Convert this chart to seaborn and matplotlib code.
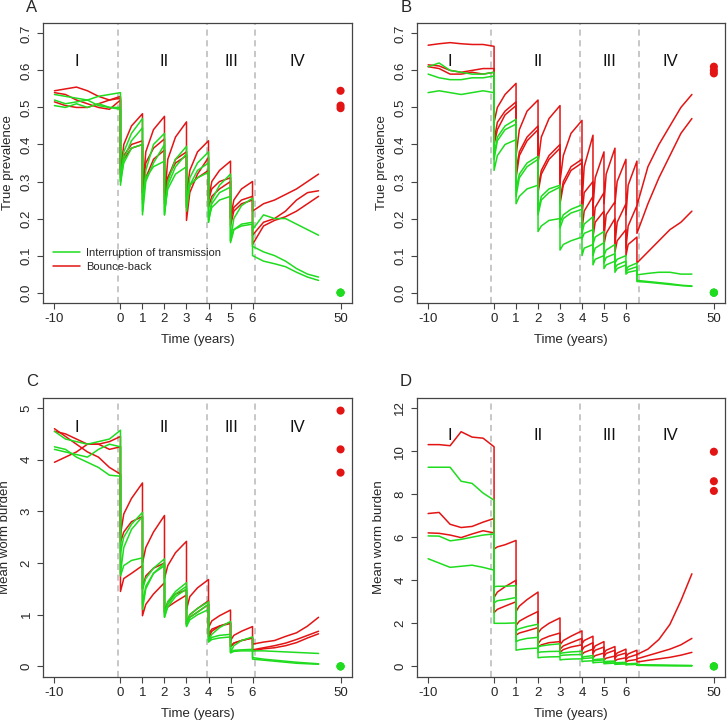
import matplotlib
matplotlib.use("Agg")
import numpy as np
import pandas as pd
import seaborn as sns
import matplotlib.pyplot as plt
from matplotlib.lines import Line2D

sns.set_theme(style="white")
plt.rcParams['font.family'] = ['Liberation Sans', 'DejaVu Sans']

# ---------------- data ----------------
XTICK_LABELS = ['-10', '0', '1', '2', '3', '4', '5', '6', '50']
PHASES = ['I', 'II', 'III', 'IV']
LEG_LABELS = ['Interruption of transmission', 'Bounce-back']

# Panel A: true prevalence (annual treatment years 0-6)
A_r1 = [0.545, 0.55, 0.555, 0.545, 0.53, 0.52, 0.525,
        0.32, 0.40, 0.45, 0.483, 0.27, 0.38, 0.44, 0.476, 0.25, 0.36, 0.42, 0.461,
        0.26, 0.33, 0.38, 0.41, 0.25, 0.30, 0.33, 0.355, 0.20, 0.25, 0.28, 0.30,
        0.22, 0.24, 0.25, 0.265, 0.28, 0.30, 0.32]
A_r2 = [0.54, 0.535, 0.52, 0.51, 0.50, 0.495, 0.52,
        0.31, 0.37, 0.40, 0.41, 0.27, 0.35, 0.39, 0.415, 0.24, 0.31, 0.36, 0.38,
        0.195, 0.27, 0.32, 0.365, 0.25, 0.28, 0.30, 0.31, 0.20, 0.23, 0.25, 0.26,
        0.155, 0.19, 0.20, 0.22, 0.25, 0.27, 0.275]
A_r3 = [0.515, 0.505, 0.50, 0.50, 0.51, 0.52, 0.53,
        0.33, 0.36, 0.39, 0.40, 0.25, 0.31, 0.36, 0.385, 0.27, 0.31, 0.35, 0.37,
        0.23, 0.29, 0.31, 0.33, 0.23, 0.26, 0.28, 0.30, 0.18, 0.22, 0.24, 0.25,
        0.13, 0.18, 0.195, 0.205, 0.22, 0.24, 0.26]
A_g1 = [0.535, 0.53, 0.525, 0.52, 0.53, 0.535, 0.54,
        0.30, 0.38, 0.43, 0.47, 0.22, 0.33, 0.40, 0.43, 0.21, 0.30, 0.36, 0.395,
        0.23, 0.31, 0.35, 0.38, 0.19, 0.25, 0.29, 0.32, 0.14, 0.20, 0.235, 0.255,
        0.17, 0.21, 0.20, 0.20, 0.185, 0.17, 0.155]
A_g2 = [0.52, 0.51, 0.515, 0.52, 0.505, 0.50, 0.495,
        0.29, 0.36, 0.41, 0.445, 0.21, 0.30, 0.35, 0.40, 0.21, 0.29, 0.34, 0.375,
        0.22, 0.29, 0.33, 0.35, 0.19, 0.24, 0.27, 0.285, 0.135, 0.17, 0.185, 0.19,
        0.125, 0.11, 0.10, 0.085, 0.065, 0.05, 0.042]
A_g3 = [0.505, 0.50, 0.51, 0.50, 0.51, 0.50, 0.50,
        0.30, 0.35, 0.39, 0.40, 0.24, 0.31, 0.34, 0.355, 0.22, 0.28, 0.32, 0.34,
        0.24, 0.29, 0.31, 0.325, 0.20, 0.23, 0.25, 0.26, 0.14, 0.17, 0.18, 0.185,
        0.10, 0.085, 0.078, 0.07, 0.055, 0.042, 0.033]
A_eq_red = [0.545, 0.505, 0.498]
A_eq_green = [0.0, 0.0, 0.0]

# Panel B: true prevalence (annual years 0-4, semi-annual 4-6.5)
B_r1 = [0.668, 0.672, 0.675, 0.672, 0.670, 0.670, 0.665,
        0.46, 0.50, 0.535, 0.565, 0.37, 0.44, 0.49, 0.52, 0.35, 0.42, 0.47, 0.505,
        0.30, 0.37, 0.43, 0.465,
        0.24, 0.34, 0.425, 0.23, 0.31, 0.38, 0.24, 0.32, 0.39, 0.24, 0.30, 0.36,
        0.21, 0.29, 0.355,
        0.235, 0.34, 0.40, 0.45, 0.50, 0.535]
B_r2 = [0.615, 0.612, 0.60, 0.595, 0.60, 0.605, 0.605,
        0.41, 0.46, 0.49, 0.515, 0.33, 0.38, 0.42, 0.45, 0.28, 0.33, 0.37, 0.40,
        0.25, 0.30, 0.34, 0.36,
        0.21, 0.27, 0.30, 0.17, 0.23, 0.27, 0.15, 0.21, 0.245, 0.13, 0.19, 0.24,
        0.12, 0.18, 0.235,
        0.16, 0.24, 0.31, 0.37, 0.43, 0.47]
B_r3 = [0.61, 0.605, 0.59, 0.59, 0.595, 0.59, 0.595,
        0.40, 0.44, 0.48, 0.505, 0.31, 0.37, 0.41, 0.44, 0.27, 0.32, 0.36, 0.39,
        0.24, 0.29, 0.33, 0.35,
        0.17, 0.22, 0.26, 0.15, 0.19, 0.22, 0.13, 0.16, 0.20, 0.11, 0.14, 0.17,
        0.10, 0.13, 0.15,
        0.08, 0.11, 0.14, 0.17, 0.19, 0.22]
B_g1 = [0.61, 0.62, 0.60, 0.595, 0.59, 0.59, 0.595,
        0.37, 0.42, 0.45, 0.468, 0.28, 0.32, 0.35, 0.368, 0.22, 0.26, 0.28, 0.29,
        0.19, 0.21, 0.225, 0.237,
        0.16, 0.185, 0.205, 0.13, 0.15, 0.165, 0.10, 0.115, 0.13, 0.08, 0.09, 0.10,
        0.06, 0.07, 0.08,
        0.048, 0.052, 0.055, 0.055, 0.05, 0.05]
B_g2 = [0.59, 0.58, 0.575, 0.575, 0.58, 0.58, 0.585,
        0.36, 0.41, 0.44, 0.455, 0.26, 0.31, 0.34, 0.36, 0.21, 0.25, 0.27, 0.285,
        0.175, 0.20, 0.215, 0.225,
        0.145, 0.16, 0.17, 0.10, 0.12, 0.135, 0.08, 0.095, 0.105, 0.065, 0.075, 0.085,
        0.055, 0.062, 0.07,
        0.033, 0.03, 0.027, 0.024, 0.02, 0.018]
B_g3 = [0.54, 0.545, 0.54, 0.535, 0.54, 0.545, 0.54,
        0.33, 0.37, 0.40, 0.413, 0.24, 0.26, 0.28, 0.29, 0.165, 0.18, 0.195, 0.20,
        0.115, 0.13, 0.14, 0.15,
        0.10, 0.12, 0.13, 0.075, 0.09, 0.10, 0.065, 0.075, 0.085, 0.055, 0.065, 0.075,
        0.05, 0.055, 0.06,
        0.03, 0.028, 0.025, 0.022, 0.019, 0.017]
B_eq_red = [0.61, 0.60, 0.592]
B_eq_green = [0.0, 0.0, 0.0]

# Panel C: mean worm burden (annual treatment years 0-6)
C_r1 = [3.95, 4.05, 4.15, 4.3, 4.3, 4.2, 4.25,
        2.55, 2.95, 3.25, 3.55, 2.0, 2.3, 2.6, 2.92, 1.7, 1.95, 2.2, 2.42,
        1.1, 1.35, 1.52, 1.68, 0.75, 0.88, 0.98, 1.09, 0.5, 0.6, 0.68, 0.77,
        0.43, 0.47, 0.5, 0.58, 0.65, 0.78, 0.95]
C_r2 = [4.6, 4.45, 4.3, 4.15, 4.05, 3.85, 3.72,
        1.45, 1.7, 1.8, 1.95, 0.98, 1.2, 1.4, 1.62, 1.05, 1.15, 1.25, 1.38,
        0.82, 0.95, 1.05, 1.2, 0.55, 0.68, 0.78, 0.83, 0.38, 0.45, 0.5, 0.55,
        0.32, 0.36, 0.4, 0.45, 0.52, 0.6, 0.68]
C_r3 = [4.55, 4.5, 4.4, 4.3, 4.3, 4.35, 4.45,
        2.4, 2.6, 2.8, 2.9, 1.5, 1.75, 1.9, 2.0, 1.05, 1.25, 1.4, 1.48,
        0.82, 1.0, 1.12, 1.27, 0.62, 0.72, 0.78, 0.85, 0.38, 0.45, 0.5, 0.55,
        0.3, 0.34, 0.36, 0.4, 0.46, 0.55, 0.63]
C_g1 = [4.55, 4.4, 4.35, 4.3, 4.35, 4.4, 4.57,
        2.2, 2.5, 2.75, 2.98, 1.5, 1.7, 1.9, 2.08, 1.0, 1.25, 1.45, 1.62,
        0.8, 1.0, 1.12, 1.25, 0.5, 0.62, 0.75, 0.87, 0.27, 0.4, 0.5, 0.57,
        0.3, 0.3, 0.29, 0.28, 0.27, 0.26, 0.25]
C_g2 = [4.2, 4.15, 4.1, 4.05, 4.2, 4.3, 4.25,
        1.8, 2.3, 2.65, 2.9, 1.2, 1.55, 1.8, 2.0, 0.95, 1.2, 1.4, 1.55,
        0.78, 0.95, 1.05, 1.2, 0.48, 0.56, 0.6, 0.62, 0.28, 0.31, 0.32, 0.33,
        0.17, 0.14, 0.12, 0.1, 0.08, 0.065, 0.05]
C_g3 = [4.25, 4.2, 4.05, 3.95, 3.85, 3.7, 3.68,
        1.75, 1.95, 2.05, 2.1, 1.1, 1.5, 1.8, 1.95, 0.95, 1.15, 1.35, 1.5,
        0.77, 0.9, 1.0, 1.1, 0.47, 0.52, 0.55, 0.57, 0.26, 0.29, 0.3, 0.3,
        0.14, 0.12, 0.1, 0.08, 0.06, 0.05, 0.04]
C_eq_red = [4.95, 4.2, 3.75]
C_eq_green = [0.0, 0.0, 0.0]

# Panel D: mean worm burden (annual years 0-4, semi-annual 4-6.5)
D_r1 = [10.3, 10.3, 10.25, 10.9, 10.65, 10.6, 10.2,
        5.45, 5.55, 5.65, 5.85, 2.55, 2.8, 3.1, 3.45, 1.55, 1.75, 2.0, 2.25,
        1.0, 1.2, 1.4, 1.65,
        1.05, 1.2, 1.4, 0.75, 0.95, 1.15, 0.6, 0.75, 0.92, 0.5, 0.62, 0.8,
        0.45, 0.58, 0.75,
        0.55, 0.8, 1.25, 1.95, 3.05, 4.3]
D_r2 = [7.1, 7.15, 6.6, 6.45, 6.5, 6.7, 6.87,
        3.2, 3.45, 3.7, 4.0, 1.9, 2.1, 2.3, 2.55, 1.05, 1.25, 1.4, 1.55,
        0.8, 0.95, 1.1, 1.3,
        0.75, 0.9, 1.1, 0.6, 0.75, 0.9, 0.45, 0.6, 0.75, 0.38, 0.5, 0.62,
        0.32, 0.42, 0.55,
        0.35, 0.5, 0.65, 0.8, 1.0, 1.3]
D_r3 = [6.2, 6.18, 6.1, 5.98, 6.15, 6.3, 6.2,
        2.5, 2.65, 2.8, 3.0, 1.45, 1.55, 1.65, 1.8, 0.9, 1.0, 1.1, 1.15,
        0.65, 0.78, 0.9, 1.0,
        0.55, 0.65, 0.8, 0.4, 0.5, 0.62, 0.3, 0.38, 0.48, 0.25, 0.32, 0.4,
        0.2, 0.26, 0.32,
        0.2, 0.28, 0.35, 0.42, 0.52, 0.65]
D_g1 = [9.25, 9.25, 9.25, 8.6, 8.5, 8.05, 7.72,
        3.7, 3.72, 3.72, 3.75, 1.65, 1.75, 1.85, 1.96, 0.9, 0.95, 1.0, 1.05,
        0.6, 0.63, 0.67, 0.7,
        0.4, 0.45, 0.5, 0.3, 0.32, 0.35, 0.2, 0.23, 0.25, 0.15, 0.17, 0.19,
        0.1, 0.12, 0.14,
        0.08, 0.07, 0.06, 0.05, 0.045, 0.04]
D_g2 = [6.06, 6.05, 5.83, 5.9, 6.0, 6.1, 6.15,
        2.95, 3.05, 3.1, 3.2, 1.15, 1.22, 1.3, 1.35, 0.65, 0.67, 0.69, 0.7,
        0.5, 0.52, 0.54, 0.55,
        0.35, 0.37, 0.4, 0.25, 0.27, 0.3, 0.17, 0.19, 0.21, 0.12, 0.14, 0.16,
        0.08, 0.1, 0.12,
        0.06, 0.05, 0.045, 0.04, 0.035, 0.03]
D_g3 = [5.0, 4.8, 4.6, 4.65, 4.7, 4.6, 4.47,
        2.0, 2.0, 2.0, 2.02, 0.75, 0.78, 0.82, 0.85, 0.4, 0.42, 0.44, 0.45,
        0.3, 0.32, 0.34, 0.35,
        0.22, 0.24, 0.26, 0.16, 0.18, 0.2, 0.12, 0.13, 0.15, 0.09, 0.1, 0.11,
        0.07, 0.08, 0.09,
        0.05, 0.04, 0.035, 0.03, 0.028, 0.025]
D_eq_red = [9.97, 8.6, 8.15]
D_eq_green = [0.0, 0.0, 0.0]

# ---------------- structure / styling ----------------
GREEN = '#1fdc1f'
RED = '#e31414'
FRAME = '#444444'

# display time axis: pre-treatment 10 years compressed into 3 units, "50" shown at 10
PRE_X = [-3, -2.5, -2, -1.5, -1, -0.5, 0]
XTICKS = [-3, 0, 1, 2, 3, 4, 5, 6, 10]


def knots(n_annual, semi_starts, iv_x):
    xs = list(PRE_X)
    for k in range(n_annual):
        xs += [k, k + 0.15, k + 0.5, k + 1]
    for t in semi_starts:
        xs += [t, t + 0.1, t + 0.5]
    xs += iv_x
    return xs


X_AC = knots(6, [], [6, 6.5, 7, 7.5, 8, 8.5, 9])
X_BD = knots(4, [4, 4.5, 5, 5.5, 6], [6.5, 7, 7.5, 8, 8.5, 9])

W, H = 728, 720
fig = plt.figure(figsize=(W / 100, H / 100), dpi=100)


def px_axes(left, top, width, height):
    return fig.add_axes([left / W, 1 - (top + height) / H, width / W, height / H])


def panel(ax, x, reds, greens, eq_red, eq_green, ylim, yticks, ylabels, ylabel,
          vlines, phase_x, phase_y, ylab_x):
    rows = []
    for name, ys, oc in ([('r%d' % i, y, LEG_LABELS[1]) for i, y in enumerate(reds)] +
                         [('g%d' % i, y, LEG_LABELS[0]) for i, y in enumerate(greens)]):
        assert len(ys) == len(x), (name, len(ys), len(x))
        for xi, yi in zip(x, ys):
            rows.append((xi, yi, name, oc))
    df = pd.DataFrame(rows, columns=['x', 'y', 'run', 'outcome'])
    for v in vlines:
        ax.axvline(v, color='#b8b8b8', ls=(0, (4, 3)), lw=1.1, zorder=0)
    sns.lineplot(data=df[df.outcome == LEG_LABELS[1]], x='x', y='y', units='run',
                 estimator=None, sort=False, color=RED, lw=1.1, ax=ax, legend=False)
    sns.lineplot(data=df[df.outcome == LEG_LABELS[0]], x='x', y='y', units='run',
                 estimator=None, sort=False, color=GREEN, lw=1.1, ax=ax, legend=False)
    eq = pd.DataFrame({'x': [10] * (len(eq_red) + len(eq_green)),
                       'y': list(eq_red) + list(eq_green),
                       'outcome': [LEG_LABELS[1]] * len(eq_red) + [LEG_LABELS[0]] * len(eq_green)})
    sns.scatterplot(data=eq, x='x', y='y', hue='outcome',
                    palette={LEG_LABELS[1]: RED, LEG_LABELS[0]: GREEN},
                    s=34, linewidth=0, ax=ax, legend=False, zorder=5)
    ax.set_xlim(-3.52, 10.52)
    ax.set_ylim(*ylim)
    ax.set_xticks(XTICKS)
    ax.set_xticklabels(XTICK_LABELS, fontsize=9.5)
    ax.set_yticks(yticks)
    ax.set_yticklabels(ylabels, fontsize=9.5, rotation=90, va='center')
    ax.tick_params(axis='both', direction='out', length=4, width=0.8, color=FRAME,
                   pad=3.5, bottom=True, left=True)
    for s in ax.spines.values():
        s.set_color(FRAME)
        s.set_linewidth(0.9)
    ax.set_xlabel('Time (years)', fontsize=9.5)
    ax.set_ylabel(ylabel, fontsize=9.5)
    ax.xaxis.set_label_coords(0.5, -0.112)
    ax.yaxis.set_label_coords(ylab_x, 0.5)
    for lab, px in zip(PHASES, phase_x):
        ax.text(px, phase_y, lab, fontsize=12, ha='center', va='center', color='#111111')


axA = px_axes(43, 23, 309, 280)
axB = px_axes(416.7, 23, 308.6, 280)
axC = px_axes(43, 397.7, 309, 279)
axD = px_axes(416.7, 397.7, 308.6, 279)

panel(axA, X_AC, [A_r1, A_r2, A_r3], [A_g1, A_g2, A_g3], A_eq_red, A_eq_green,
      (-0.028, 0.728), np.arange(0, 0.71, 0.1), ['%.1f' % v for v in np.arange(0, 0.71, 0.1)],
      'True prevalence', [-0.1, 3.93, 6.12], [-2.0, 2.0, 5.03, 8.03], 0.625, -0.094)
panel(axB, X_BD, [B_r1, B_r2, B_r3], [B_g1, B_g2, B_g3], B_eq_red, B_eq_green,
      (-0.028, 0.728), np.arange(0, 0.71, 0.1), ['%.1f' % v for v in np.arange(0, 0.71, 0.1)],
      'True prevalence', [-0.12, 3.92, 6.6], [-2.0, 2.0, 5.27, 8.03], 0.625, -0.094)
panel(axC, X_AC, [C_r1, C_r2, C_r3], [C_g1, C_g2, C_g3], C_eq_red, C_eq_green,
      (-0.2, 5.2), [0, 1, 2, 3, 4, 5], ['0', '1', '2', '3', '4', '5'],
      'Mean worm burden', [-0.1, 3.93, 6.12], [-2.0, 2.0, 5.03, 8.03], 4.62, -0.104)
panel(axD, X_BD, [D_r1, D_r2, D_r3], [D_g1, D_g2, D_g3], D_eq_red, D_eq_green,
      (-0.48, 12.48), [0, 2, 4, 6, 8, 10, 12], ['0', '2', '4', '6', '8', '10', '12'],
      'Mean worm burden', [-0.12, 3.92, 6.6], [-2.0, 2.0, 5.27, 8.03], 10.73, -0.103)

handles = [Line2D([], [], color=GREEN, lw=1.1), Line2D([], [], color=RED, lw=1.1)]
axA.legend(handles, LEG_LABELS, loc='center left', bbox_to_anchor=((53 - 43) / 309, 0.155),
           frameon=False, fontsize=8, handlelength=2.4, handletextpad=0.55,
           labelspacing=0.35, borderpad=0, borderaxespad=0)

for lab, (x, y) in zip('ABCD', [(32, 7.5), (406, 7.5), (32, 381.7), (406, 381.7)]):
    fig.text(x / W, 1 - y / H, lab, fontsize=12, ha='center', va='center')

fig.savefig('out.png', dpi=100)
